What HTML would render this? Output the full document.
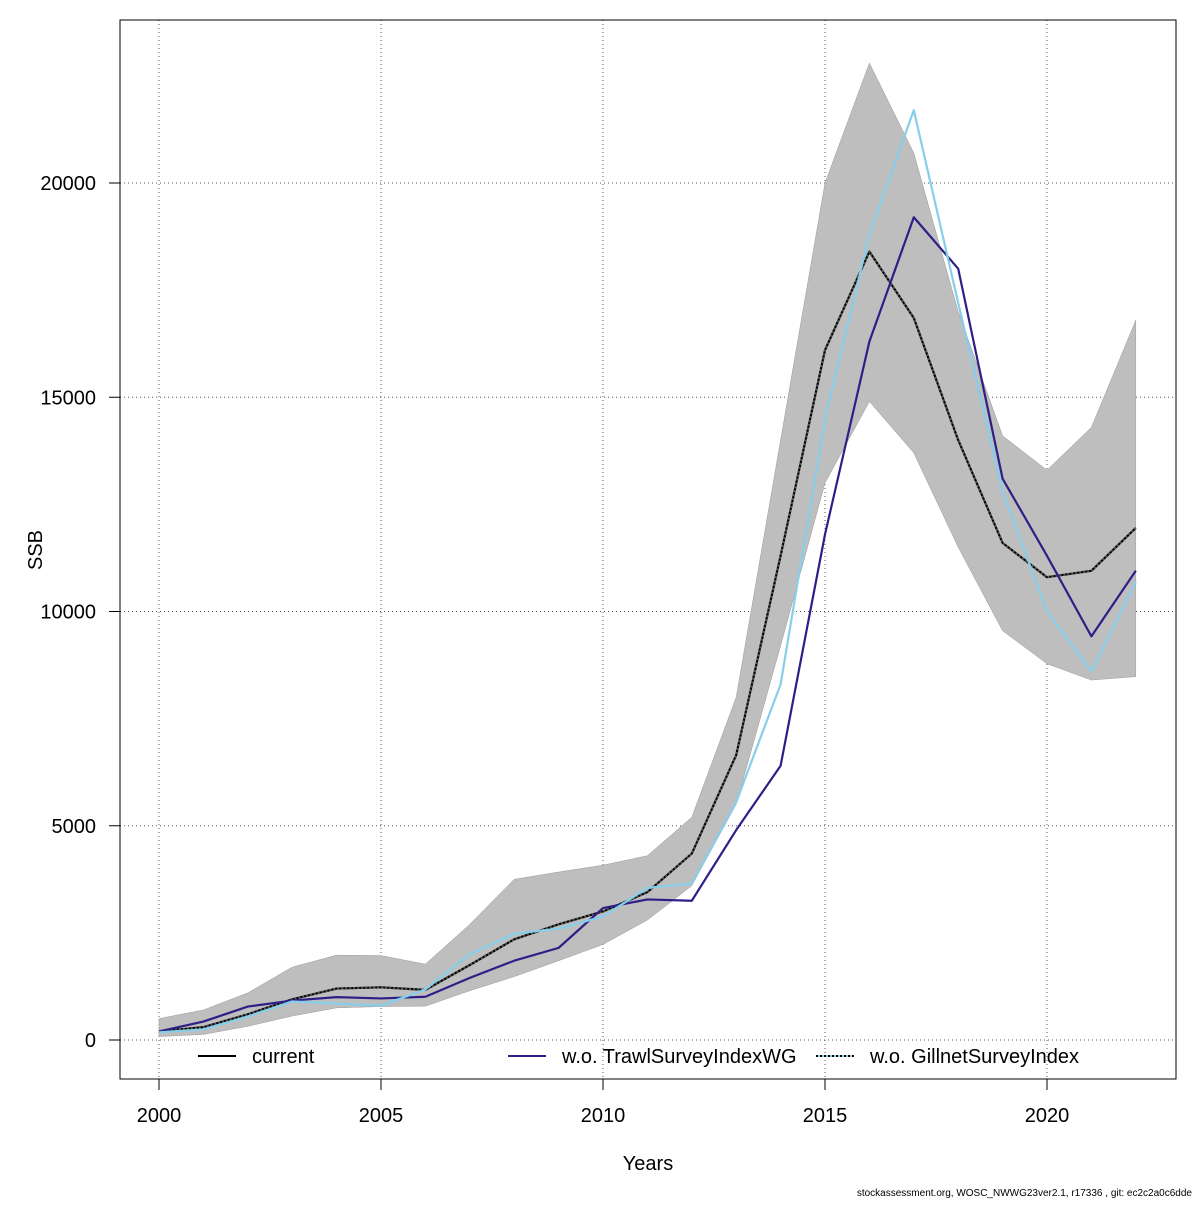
<!DOCTYPE html>
<html><head><meta charset="utf-8"><style>
body{margin:0;background:#fff;}
svg text{font-family:"Liberation Sans",sans-serif;}
</style></head><body>
<svg id="chart" width="1200" height="1200" xmlns="http://www.w3.org/2000/svg">
<rect width="1200" height="1200" fill="#fff"/>
<g id="grid"></g>
<g id="band"></g>
<g id="lines"></g>
<rect x="120" y="20" width="1056" height="1059" fill="none" stroke="#000" stroke-width="1"/>
<g id="axes"></g>
<text x="648" y="1170" font-size="20" text-anchor="middle">Years</text>
<text x="42" y="550" font-size="20" text-anchor="middle" transform="rotate(-90 42 550)">SSB</text>
<text x="1192" y="1196" font-size="10" text-anchor="end">stockassessment.org, WOSC_NWWG23ver2.1, r17336 , git: ec2c2a0c6dde</text>
<g id="legend">
<line x1="198" y1="1056" x2="236" y2="1056" stroke="#000" stroke-width="2"/>
<text x="252" y="1063" font-size="20">current</text>
<line x1="508" y1="1056" x2="546" y2="1056" stroke="#2e1f87" stroke-width="2"/>
<text x="562" y="1063" font-size="20">w.o. TrawlSurveyIndexWG</text>
<line x1="816" y1="1056" x2="854" y2="1056" stroke="#87ceeb" stroke-width="2"/>
<line x1="816" y1="1056" x2="854" y2="1056" stroke="#000" stroke-width="2" stroke-dasharray="2,2"/>
<text x="870" y="1063" font-size="20">w.o. GillnetSurveyIndex</text>
</g>
</svg>
<script>
const years=[2000,2001,2002,2003,2004,2005,2006,2007,2008,2009,2010,2011,2012,2013,2014,2015,2016,2017,2018,2019,2020,2021,2022];
const current=[200,300,600,950,1200,1230,1170,1750,2350,2700,3000,3450,4350,6650,11300,16100,18400,16850,14000,11600,10800,10950,11950];
const upper=[500,700,1100,1700,1980,1970,1770,2700,3750,3920,4080,4300,5200,8000,14000,20000,22800,20700,17000,14100,13300,14300,16800];
const lower=[80,130,320,560,750,780,790,1150,1480,1850,2230,2800,3600,5500,9200,13000,14900,13700,11500,9550,8780,8400,8480];
const trawl=[200,430,780,920,1000,970,1010,1450,1850,2150,3080,3280,3250,4900,6400,11800,16300,19200,18000,13100,11300,9420,10950];
const gillnet=[180,250,550,900,850,800,1180,2000,2480,2600,2880,3550,3650,5550,8300,14500,18800,21700,17200,12800,10000,8600,10700];
const xTicks=[2000,2005,2010,2015,2020];
const yTicks=[0,5000,10000,15000,20000];
const NS="http://www.w3.org/2000/svg";
const X=y=>159+(y-2000)*(1047-159)/20;
const Y=v=>1040-v*(1040-183)/20000;
function mk(t,a,p){const e=document.createElementNS(NS,t);for(const k in a)e.setAttribute(k,a[k]);p.appendChild(e);return e;}
const grid=document.getElementById('grid'),axes=document.getElementById('axes');
xTicks.forEach(t=>{
 const g=mk('line',{x1:X(t),x2:X(t),y1:20,y2:1079,stroke:'#555','stroke-width':1,'stroke-dasharray':'1,3'},grid);
 
 
 const k=mk('line',{x1:X(t),x2:X(t),y1:1079,y2:1090,stroke:'#000'},axes);
 
 
 const l=mk('text',{x:X(t),y:1122,'font-size':20,'text-anchor':'middle'},axes);l.textContent=t;
 
 
});
yTicks.forEach(t=>{
 const g=mk('line',{x1:120,x2:1176,y1:Y(t),y2:Y(t),stroke:'#555','stroke-width':1,'stroke-dasharray':'1,3'},grid);
 
 
 const k=mk('line',{x1:109,x2:120,y1:Y(t),y2:Y(t),stroke:'#000'},axes);
 
 
 const l=mk('text',{x:96,y:Y(t)+7,'font-size':20,'text-anchor':'end'},axes);l.textContent=t;
 
 
});
const bandPts=years.map((y,i)=>X(y)+','+Y(upper[i])).concat(years.map((y,i)=>X(y)+','+Y(lower[i])).reverse()).join(' ');
const b=mk('polygon',{points:bandPts,fill:'#bebebe',stroke:'#9a9a9a','stroke-width':0.5},document.getElementById('band'));


const lines=document.getElementById('lines');
function line(vals,col,name,dash){
 const p=mk('polyline',{points:years.map((y,i)=>X(y)+','+Y(vals[i])).join(' '),fill:'none',stroke:col,'stroke-width':2.2,'stroke-linejoin':'round'},lines);
 if(dash)p.setAttribute('stroke-dasharray',dash);
 
 
}
line(current,'#000','line-current');
line(current,'#555','line-current-dots','2,2');
line(trawl,'#2e1f87','line-trawl');
line(gillnet,'#87ceeb','line-gillnet');
</script>
</body></html>
